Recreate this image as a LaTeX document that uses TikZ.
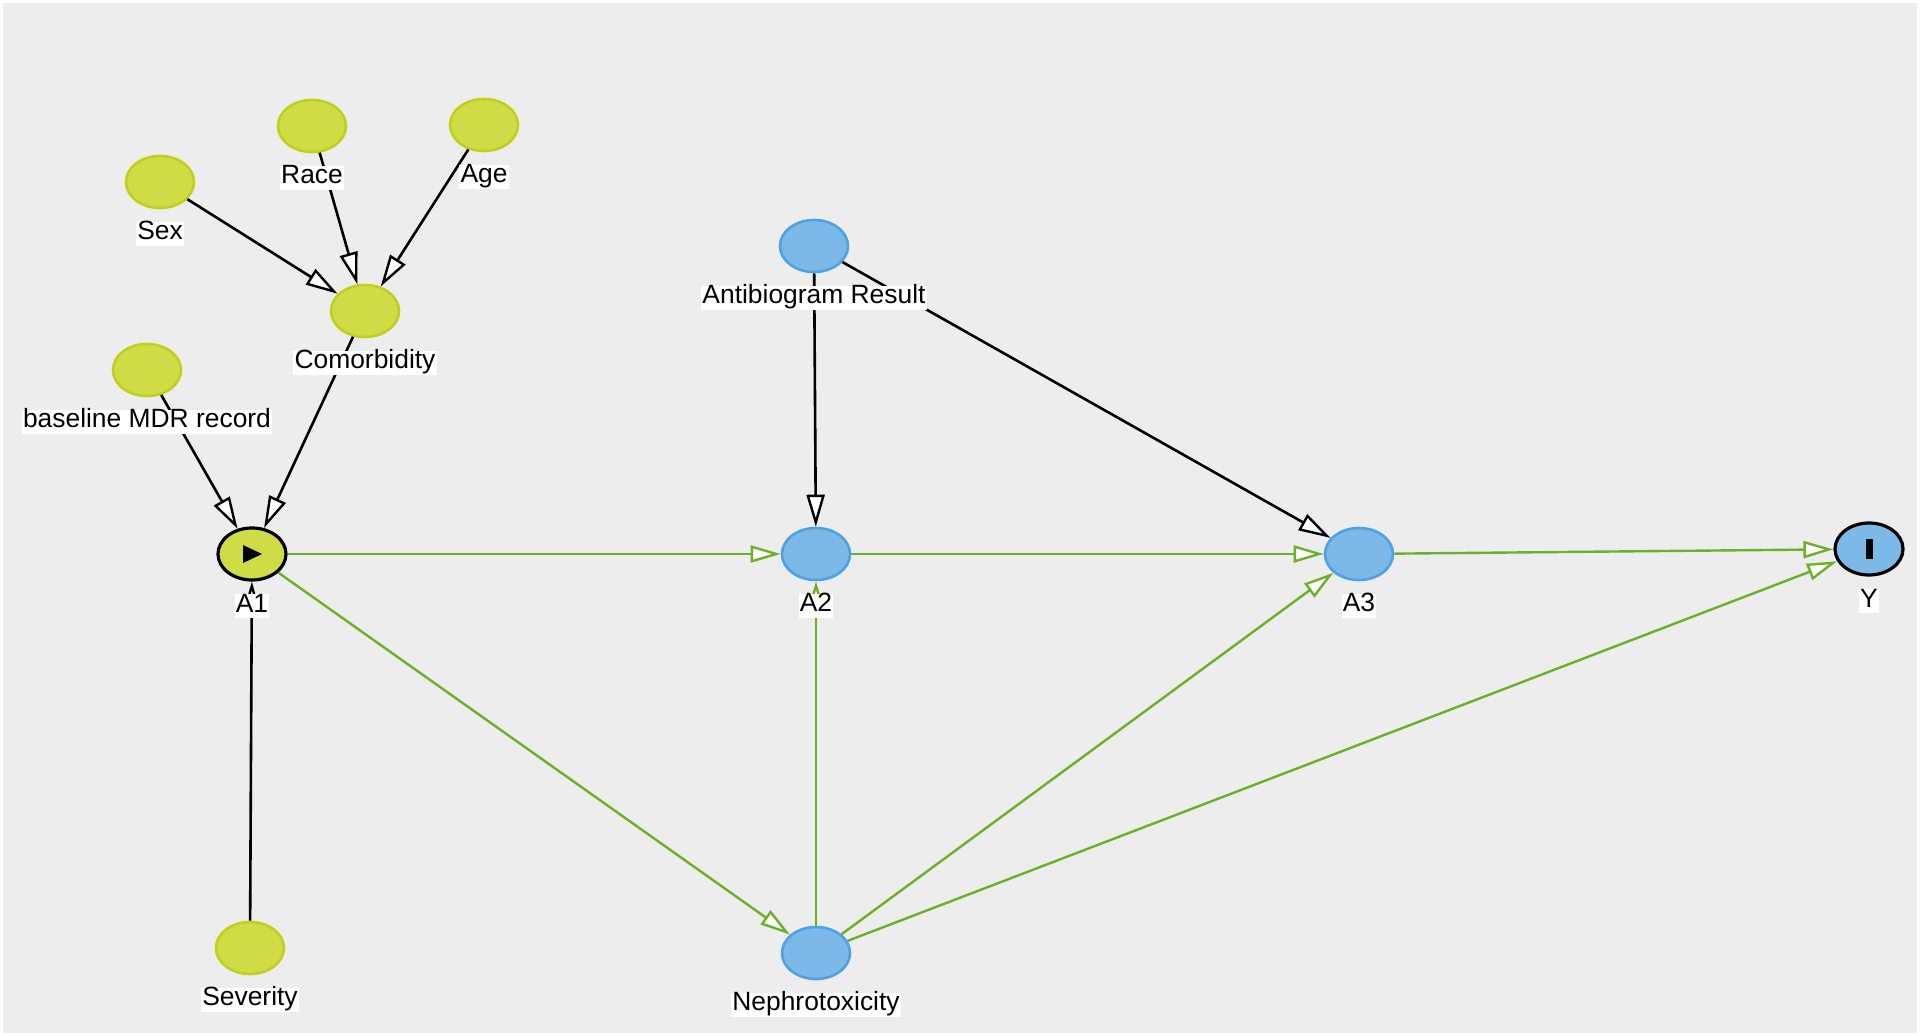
\documentclass[tikz,border=0pt]{standalone}
\usepackage{fontspec}
\setmainfont{Liberation Sans}
\usetikzlibrary{positioning,shapes.geometric,arrows.meta}
\definecolor{DGBack}{HTML}{EDEDED}
\definecolor{DGGreen}{HTML}{D0DC46}
\definecolor{DGGreenLine}{HTML}{C2CF1E}
\definecolor{DGBlue}{HTML}{7CB9E8}
\definecolor{DGBlueLine}{HTML}{4FA2E2}
\definecolor{DGEdge}{HTML}{6CB02A}
\tikzset{
  dagBase/.style={
    ellipse,
    minimum width=34pt,
    minimum height=26pt,
    inner sep=0pt,
    line width=1.3pt
  },
  dagCov/.style={
    dagBase,
    fill=DGGreen,
    draw=DGGreenLine
  },
  dagMed/.style={
    dagBase,
    fill=DGBlue,
    draw=DGBlueLine
  },
  dagExp/.style={
    dagBase,
    fill=DGGreen,
    draw=black,
    line width=1.6pt
  },
  dagOut/.style={
    dagBase,
    fill=DGBlue,
    draw=black,
    line width=1.6pt
  },
  dagLabel/.style={
    fill=white,
    inner sep=0.6pt,
    text height=0.85em,
    text depth=0.25em,
    font=\fontsize{13.2pt}{15pt}\selectfont,
    text=black
  },
  dagArrow/.style={
    line width=1.3pt,
    draw=black,
    -{Triangle[fill=white, length=16pt, width=9pt, line width=1.2pt]}
  },
  dagArrowGreen/.style={
    line width=1.2pt,
    draw=DGEdge,
    -{Triangle[fill=white, length=15pt, width=8.5pt, line width=1.2pt]}
  }
}
\begin{document}
\begin{tikzpicture}[x=0.5pt, y=-0.5pt, node distance=6pt]
        \useasboundingbox (0,0) rectangle (1920,1036);
        \fill[white] (0,0) rectangle (1920,1036);
        \fill[DGBack] (3,3) rectangle (1917,1033);

        \node (sex) [dagCov] at (160,182) {};
        \node (race) [dagCov] at (312,126) {};
        \node (age) [dagCov] at (484,125) {};
        \node (comorb) [dagCov] at (365,311) {};
        \node (mdr) [dagCov] at (147,370) {};
        \node (a1) [dagExp] at (252,554) {};
        \node (sev) [dagCov] at (250,948) {};
        \node (abg) [dagMed] at (814,246) {};
        \node (a2) [dagMed] at (816,554) {};
        \node (a3) [dagMed] at (1359,554) {};
        \node (y) [dagOut] at (1869,549) {};
        \node (neph) [dagMed] at (816,953) {};

        \fill (a1) ++(-9,-9) -- ++(19,9) -- ++(-19,9) -- cycle;
        \fill ([xshift=-1.75pt, yshift=-5pt]y.center) rectangle ([xshift=1.75pt, yshift=5pt]y.center);

        \draw [dagArrow] (sex) -- (comorb);
        \draw [dagArrow] (race) -- (comorb);
        \draw [dagArrow] (age) -- (comorb);
        \draw [dagArrow] (comorb) -- (a1);
        \draw [dagArrow] (mdr) -- (a1);
        \draw [dagArrow] (sev) -- (a1);
        \draw [dagArrow] (abg) -- (a2);
        \draw [dagArrow] (abg) -- (a3);
        \draw [dagArrowGreen] (a1) -- (a2);
        \draw [dagArrowGreen] (a1) -- (neph);
        \draw [dagArrowGreen] (a2) -- (a3);
        \draw [dagArrowGreen] (a3) -- (y);
        \draw [dagArrowGreen] (neph) -- (a2);
        \draw [dagArrowGreen] (neph) -- (a3);
        \draw [dagArrowGreen] (neph) -- (y);

        \node (sexL) [dagLabel, below=of sex] {Sex};
        \node (raceL) [dagLabel, below=of race] {Race};
        \node (ageL) [dagLabel, below=of age] {Age};
        \node (comorbL) [dagLabel, below=of comorb] {Comorbidity};
        \node (mdrL) [dagLabel, below=of mdr] {baseline MDR record};
        \node (a1L) [dagLabel, below=of a1] {A1};
        \node (sevL) [dagLabel, below=of sev] {Severity};
        \node (abgL) [dagLabel, below=of abg] {Antibiogram Result};
        \node (a2L) [dagLabel, below=of a2] {A2};
        \node (a3L) [dagLabel, below=of a3] {A3};
        \node (yL) [dagLabel, below=of y] {Y};
        \node (nephL) [dagLabel, below=of neph] {Nephrotoxicity};
\end{tikzpicture}
\end{document}
